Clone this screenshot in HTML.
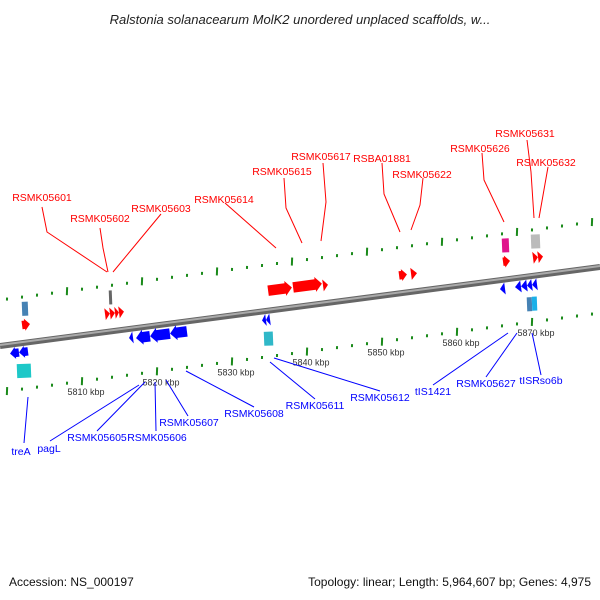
<!DOCTYPE html>
<html><head><meta charset="utf-8"><style>
html,body{margin:0;padding:0;background:#fff;}
svg{display:block;font-family:"Liberation Sans","DejaVu Sans",sans-serif;}
</style></head><body>
<svg id="chart" width="600" height="600" viewBox="0 0 600 600" xmlns="http://www.w3.org/2000/svg">
<rect width="600" height="600" fill="#fff"/>
<text x="300" y="24" text-anchor="middle" font-size="13" font-style="italic" fill="#222">Ralstonia solanacearum MolK2 unordered unplaced scaffolds, w...</text>
<g id="ticks"></g>
<line x1="0" y1="346" x2="600" y2="267" stroke="#666" stroke-width="6"/>
<line x1="0" y1="345" x2="600" y2="266" stroke="#aaa" stroke-width="2"/>
<g id="genes"></g>
<g id="labels"></g>
<text x="9" y="586" font-size="12" fill="#111">Accession: NS_000197</text>
<text x="591" y="586" font-size="12" fill="#111" text-anchor="end">Topology: linear; Length: 5,964,607 bp; Genes: 4,975</text>
</svg>
<script>
const NS='http://www.w3.org/2000/svg';
// data
const tickKbp=[5800,5810,5820,5830,5840,5850,5860,5870,5880];
const tickLabels=['5800 kbp','5810 kbp','5820 kbp','5830 kbp','5840 kbp','5850 kbp','5860 kbp','5870 kbp','5880 kbp'];
const geneStart=[5802.0,5813.07,5813.73,5814.4,5814.93,5834.8,5838.13,5842.13,5852.27,5853.87,5866.13,5870.13,5870.8,
 5800.4,5801.6,5816.27,5817.2,5819.07,5821.73,5834.0,5834.53,5865.73,5867.73,5868.53,5869.33,5870.0];
const geneEnd=[5803.07,5813.73,5814.4,5814.93,5815.6,5838.0,5842.0,5842.8,5853.33,5854.67,5867.07,5870.8,5871.47,
 5801.6,5802.8,5816.8,5819.07,5821.73,5824.0,5834.53,5835.07,5866.4,5868.53,5869.33,5870.0,5870.67];
const geneStrand=[1,1,1,1,1,1,1,1,1,1,1,1,1,-1,-1,-1,-1,-1,-1,-1,-1,-1,-1,-1,-1,-1];
const boxStart=[5802.0,5813.6,5866.0,5869.87,5801.33,5834.27,5869.33,5870.0];
const boxEnd=[5802.8,5814.0,5866.93,5871.07,5803.2,5835.47,5870.0,5870.67];
const boxColor=['#4682b4','#666','#e0148c','#bbb','#1ec8c8','#30b8c8','#4682b4','#1ab0e8'];
const boxSide=[-1,-1,-1,-1,1,1,1,1];
const redLabels=['RSMK05601','RSMK05602','RSMK05603','RSMK05614','RSMK05615','RSMK05617','RSBA01881','RSMK05622','RSMK05626','RSMK05631','RSMK05632'];
const redLabelPos=[[42,201],[100,222],[161,212],[224,203],[282,175],[321,160],[382,162],[422,178],[480,152],[525,137],[546,166]];
const redLines=[[[42,207],[47,232],[107,272]],[[100,228],[103,248],[108,272]],[[161,214],[113,272]],[[225,203],[276,248]],[[284,178],[286,208],[302,243]],[[323,163],[326,202],[321,241]],[[382,163],[384,194],[400,232]],[[423,178],[420,205],[411,230]],[[482,153],[484,180],[504,222]],[[527,140],[531,172],[534,218]],[[548,167],[539,218]]];
const blueLabels=['treA','pagL','RSMK05605','RSMK05606','RSMK05607','RSMK05608','RSMK05611','RSMK05612','tIS1421','RSMK05627','tISRso6b'];
const blueLabelPos=[[21,455],[49,452],[97,441],[157,441],[189,426],[254,417],[315,409],[380,401],[433,395],[486,387],[541,384]];
const blueLines=[[[28,397],[24,443]],[[139,385],[50,441]],[[145,382],[97,431]],[[155,382],[156,431]],[[166,380],[188,416]],[[186,371],[254,407]],[[270,362],[315,399]],[[274,358],[380,391]],[[508,333],[433,385]],[[517,333],[486,377]],[[532,333],[541,375]]];

const SL=0.1317, ANG=-Math.atan(SL)*180/Math.PI;
function xOf(k){return 157+7.5*(k-5820);}
function lineY(x){return 346-SL*x;}
function mk(tag,attrs,parent){const e=document.createElementNS(NS,tag);for(const a in attrs)e.setAttribute(a,attrs[a]);parent.appendChild(e);return e;}

// ticks
const tg=document.getElementById('ticks');
for(let k=5796;k<=5880;k+=2){
  const major=((k%10)+10)%10===0;
  for(const row of [{off:-15,base:300,shift:-15},{off:0,base:392,shift:0}]){
    const x=xOf(k)+row.shift; if(x<2||x>600)continue;
    const y=row.base-SL*x;
    const r=mk('rect',{x:x-1,y:major?y-4:y-1.5,width:2,height:major?8:3,fill:'#1a8a1a',transform:`rotate(${-ANG*0.3} ${x} ${y})`},tg);
    
    
  }
}
tickKbp.forEach((k,i)=>{
  const x=xOf(k); if(x<20||x>590)return;
  const t=mk('text',{x:x+4,y:392-SL*x+14,'font-size':9,fill:'#333','text-anchor':'middle'},tg);
  t.textContent=tickLabels[i];
  
  
});

// genes
const gg=document.getElementById('genes');
function arrowPts(L,H,dir){
  const head=Math.min(L,Math.max(4,H*0.45)), bh=H*0.7;
  let p;
  if(L<=head+1) p=[[0,-H/2],[L,0],[0,H/2]];
  else p=[[0,-bh/2],[L-head,-bh/2],[L-head,-H/2],[L,0],[L-head,H/2],[L-head,bh/2],[0,bh/2]];
  return p.map(([a,b])=>[dir>0?a-L/2:L/2-a,b].join(',')).join(' ');
}
geneStart.forEach((s,i)=>{
  const x1=xOf(s),x2=xOf(geneEnd[i]),L=x2-x1,cx=(x1+x2)/2,dir=geneStrand[i];
  const H=L>10?15:12;
  const off=dir>0?(L>10?-20:-18):(L>10?10:9);
  const cy=lineY(cx)+off;
  const p=mk('polygon',{points:arrowPts(L,H,dir),fill:dir>0?'#f00':'#00f',transform:`translate(${cx} ${cy}) rotate(${ANG})`},gg);
  
  
});
boxStart.forEach((s,i)=>{
  const x1=xOf(s),x2=xOf(boxEnd[i]),w=Math.max(3,x2-x1),cx=(x1+x2)/2;
  const cy=lineY(cx)+(boxSide[i]<0?-34:28);
  const r=mk('rect',{x:-w/2,y:-7,width:w,height:14,fill:boxColor[i],transform:`translate(${cx} ${cy}) rotate(${ANG*0.3})`},gg);
  
  
});

// labels
const lg=document.getElementById('labels');
function addLabels(names,pos,lines,color,nm){
  names.forEach((n,i)=>{
    const pl=mk('polyline',{points:lines[i].map(p=>p.join(',')).join(' '),fill:'none',stroke:color,'stroke-width':1},lg);
    
    
    const t=mk('text',{x:pos[i][0],y:pos[i][1],'font-size':10.5,fill:color,'text-anchor':'middle'},lg);
    t.textContent=n;
    
    
  });
}
addLabels(redLabels,redLabelPos,redLines,'#f00','forward-gene');
addLabels(blueLabels,blueLabelPos,blueLines,'#00f','reverse-gene');
</script>
</body></html>
